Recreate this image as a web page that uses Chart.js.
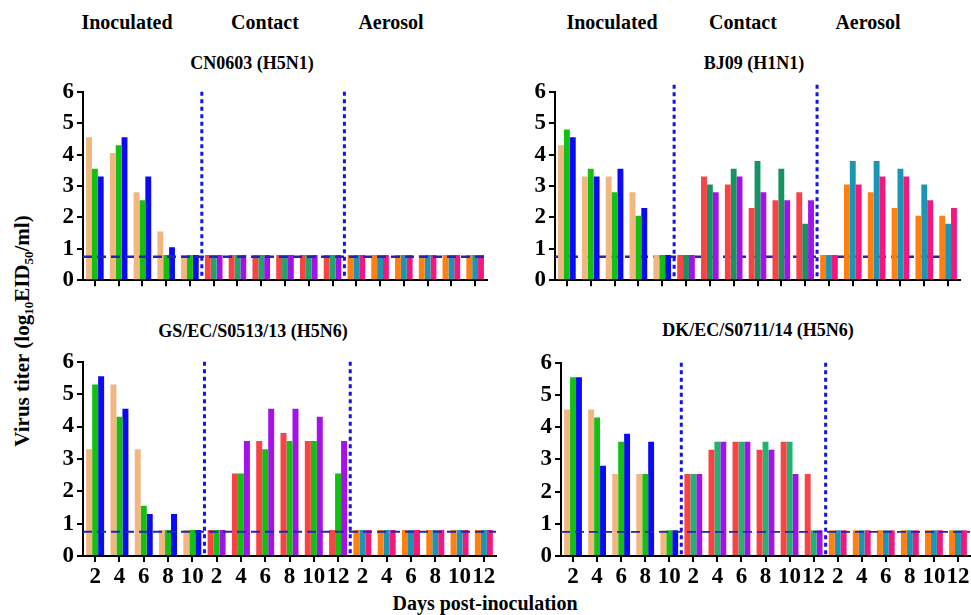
<!DOCTYPE html>
<html>
<head>
<meta charset="utf-8">
<script src="https://cdn.jsdelivr.net/npm/chart.js@4.4.1/dist/chart.umd.min.js"></script>
<style>
  body { margin: 0; background: #fff; width: 971px; height: 615px; overflow: hidden; position: relative; font-family: 'Liberation Serif', 'DejaVu Serif', 'Times New Roman', serif; }
  .txt { position: absolute; transform: translate(-50%, -50%); white-space: nowrap; font-weight: bold; color: #000; }
  .hdr { font-size: 20px; }
  .ttl { font-size: 18px; }
  .box { position: absolute; }
  sub { font-size: 13px; vertical-align: -4px; line-height: 0; }
</style>
</head>
<body>

<div class="txt hdr" style="left:127px; top:22px;">Inoculated</div>
<div class="txt hdr" style="left:265px; top:22px;">Contact</div>
<div class="txt hdr" style="left:391px; top:22px;">Aerosol</div>
<div class="txt hdr" style="left:612px; top:22px;">Inoculated</div>
<div class="txt hdr" style="left:743px; top:22px;">Contact</div>
<div class="txt hdr" style="left:868px; top:22px;">Aerosol</div>

<div class="txt ttl" style="left:252px; top:63px;">CN0603 (H5N1)</div>
<div class="txt ttl" style="left:754px; top:63px;">BJ09 (H1N1)</div>
<div class="txt ttl" style="left:253px; top:331px;">GS/EC/S0513/13 (H5N6)</div>
<div class="txt ttl" style="left:758px; top:330px;">DK/EC/S0711/14 (H5N6)</div>

<div class="txt" style="font-size:21px; left:22px; top:331px; transform: translate(-50%, -50%) rotate(-90deg);">Virus titer (log<sub>10</sub>EID<sub>50</sub>/ml)</div>
<div class="txt hdr" style="left:485px; top:603px;">Days post-inoculation</div>

<div class="box" id="boxCN"><canvas id="cnChart"></canvas></div>
<div class="box" id="boxBJ"><canvas id="bjChart"></canvas></div>
<div class="box" id="boxGS"><canvas id="gsChart"></canvas></div>
<div class="box" id="boxDK"><canvas id="dkChart"></canvas></div>

<script>
// Days sampled in each group
const inocDays = [2, 4, 6, 8, 10];
const contactDays = [2, 4, 6, 8, 10, 12];
const aerosolDays = [2, 4, 6, 8, 10, 12];
const dayLabels = [...inocDays, ...contactDays, ...aerosolDays].map(String);

const yTicks = [0, 1, 2, 3, 4, 5, 6];
const detectionLimit = 0.75;

// Titers per animal (1st / 2nd / 3rd bird), inoculated | contact | aerosol
const cnBird1 = [4.55, 4.05, 2.8, 1.55, 0.8,  0.8, 0.8, 0.8, 0.8, 0.8, 0.8,  0.8, 0.8, 0.8, 0.8, 0.8, 0.8];
const cnBird2 = [3.55, 4.3, 2.55, 0.8, 0.8,   0.8, 0.8, 0.8, 0.8, 0.8, 0.8,  0.8, 0.8, 0.8, 0.8, 0.8, 0.8];
const cnBird3 = [3.3, 4.55, 3.3, 1.05, 0.8,   0.8, 0.8, 0.8, 0.8, 0.8, 0.8,  0.8, 0.8, 0.8, 0.8, 0.8, 0.8];

const bjBird1 = [4.3, 3.3, 3.3, 2.8, 0.8,     0.8, 3.3, 3.05, 2.3, 2.55, 2.8,  0.8, 3.05, 2.8, 2.3, 2.05, 2.05];
const bjBird2 = [4.8, 3.55, 2.8, 2.05, 0.8,   0.8, 3.05, 3.55, 3.8, 3.55, 1.8, 0.8, 3.8, 3.8, 3.55, 3.05, 1.8];
const bjBird3 = [4.55, 3.3, 3.55, 2.3, 0.8,   0.8, 2.8, 3.3, 2.8, 2.55, 2.55,  0.8, 3.05, 3.3, 3.3, 2.55, 2.3];

const gsBird1 = [3.3, 5.3, 3.3, 0.8, 0.8,     0.8, 2.55, 3.55, 3.8, 3.55, 0.8,  0.8, 0.8, 0.8, 0.8, 0.8, 0.8];
const gsBird2 = [5.3, 4.3, 1.55, 0.8, 0.8,    0.8, 2.55, 3.3, 3.55, 3.55, 2.55, 0.8, 0.8, 0.8, 0.8, 0.8, 0.8];
const gsBird3 = [5.55, 4.55, 1.3, 1.3, 0.8,   0.8, 3.55, 4.55, 4.55, 4.3, 3.55, 0.8, 0.8, 0.8, 0.8, 0.8, 0.8];

const dkBird1 = [4.55, 4.55, 2.55, 2.55, 0.8, 2.55, 3.3, 3.55, 3.3, 3.55, 2.55, 0.8, 0.8, 0.8, 0.8, 0.8, 0.8];
const dkBird2 = [5.55, 4.3, 3.55, 2.55, 0.8,  2.55, 3.55, 3.55, 3.55, 3.55, 0.8, 0.8, 0.8, 0.8, 0.8, 0.8, 0.8];
const dkBird3 = [5.55, 2.8, 3.8, 3.55, 0.8,   2.55, 3.55, 3.55, 3.3, 2.55, 0.8,  0.8, 0.8, 0.8, 0.8, 0.8, 0.8];

// colours: one per bird within each group
const inocColors = ['#F2B681', '#12C012', '#0A0AF5'];
const aeroColors = ['#FF8012', '#1A96B4', '#F7177C'];

function colorsFor(bird, contactColors) {
    return [
        ...inocDays.map(() => inocColors[bird]),
        ...contactDays.map(() => contactColors[bird]),
        ...aerosolDays.map(() => aeroColors[bird])
    ];
}

const serif = "'Liberation Serif', 'DejaVu Serif', 'Times New Roman', serif";

// detection limit (dashed) + group separators (dotted)
const titerLines = {
    id: 'titerLines',
    beforeDatasetsDraw(chart, args, opts) {
        if (opts.under) drawLod(chart, opts);
    },
    afterDatasetsDraw(chart, args, opts) {
        if (!opts.under) drawLod(chart, opts);
        const { ctx, chartArea, scales: { x, y } } = chart;
        const breaks = [inocDays.length - 0.5, inocDays.length + contactDays.length - 0.5];
        ctx.save();
        ctx.strokeStyle = '#1414E0';
        ctx.lineWidth = 3;
        ctx.setLineDash([4, 3.5]);
        breaks.forEach(b => {
            const px = (x.getPixelForValue(Math.floor(b)) + x.getPixelForValue(Math.ceil(b))) / 2;
            ctx.beginPath();
            ctx.moveTo(px, y.getPixelForValue(6) - opts.sepRise);
            ctx.lineTo(px, chartArea.bottom);
            ctx.stroke();
        });
        ctx.restore();
    }
};

function drawLod(chart, opts) {
    const { ctx, chartArea, scales: { y } } = chart;
    const py = y.getPixelForValue(detectionLimit);
    ctx.save();
    ctx.strokeStyle = '#2424B4';
    ctx.lineWidth = opts.lodWidth;
    ctx.setLineDash([9, 5]);
    ctx.beginPath();
    ctx.moveTo(chartArea.left, py);
    ctx.lineTo(chartArea.right, py);
    ctx.stroke();
    ctx.restore();
}

const YW = 45, PT = 14, PR = 2;

function makePanel(boxId, canvasId, area, birds, contactColors, showLabels, lineOpts) {
    const XH = showLabels ? 45 : 12;
    const box = document.getElementById(boxId);
    box.style.left = (area.left - YW) + 'px';
    box.style.top = (area.top - PT) + 'px';
    box.style.width = (area.right - area.left + YW + PR) + 'px';
    box.style.height = (area.bottom - area.top + PT + XH) + 'px';

    const ctx = document.getElementById(canvasId).getContext('2d');
    new Chart(ctx, {
        type: 'bar',
        data: {
            labels: dayLabels,
            datasets: birds.map((d, i) => ({
                data: d,
                backgroundColor: colorsFor(i, contactColors),
                borderWidth: 0,
                categoryPercentage: 0.74,
                barPercentage: 1
            }))
        },
        options: {
            responsive: true,
            maintainAspectRatio: false,
            animation: false,
            layout: { padding: { top: PT, right: PR, left: 0, bottom: 0 } },
            plugins: {
                legend: { display: false },
                tooltip: { enabled: false },
                titerLines: lineOpts
            },
            scales: {
                x: {
                    offset: true,
                    grid: { drawOnChartArea: false, offset: false, tickLength: 6, color: '#000', lineWidth: 2 },
                    border: { color: '#000', width: 2 },
                    ticks: {
                        display: showLabels, color: '#000', padding: 1,
                        maxRotation: 0, autoSkip: false,
                        font: { family: serif, size: 23, weight: 'bold' }
                    },
                    afterFit: s => { s.height = XH; }
                },
                y: {
                    min: 0, max: 6,
                    afterBuildTicks: s => { s.ticks = yTicks.map(v => ({ value: v })); },
                    grid: { drawOnChartArea: false, tickLength: 6, color: '#000', lineWidth: 2 },
                    border: { color: '#000', width: 2 },
                    ticks: {
                        color: '#000', padding: 3,
                        font: { family: serif, size: 23, weight: 'bold' }
                    },
                    afterFit: s => { s.width = YW; }
                }
            }
        },
        plugins: [titerLines]
    });
}

makePanel('boxCN', 'cnChart', { left: 83, right: 487, top: 89, bottom: 285 },
    [cnBird1, cnBird2, cnBird3], ['#F84444', '#1CA66C', '#A412EA'], false,
    { under: false, lodWidth: 2.5, sepRise: 0 });

makePanel('boxBJ', 'bjChart', { left: 555, right: 960, top: 89, bottom: 285 },
    [bjBird1, bjBird2, bjBird3], ['#F84444', '#179262', '#A412EA'], false,
    { under: true, lodWidth: 2.5, sepRise: 7 });

makePanel('boxGS', 'gsChart', { left: 83, right: 496, top: 359, bottom: 556 },
    [gsBird1, gsBird2, gsBird3], ['#F84444', '#12C012', '#A412EA'], true,
    { under: false, lodWidth: 1.8, sepRise: 0 });

makePanel('boxDK', 'dkChart', { left: 561, right: 970, top: 360, bottom: 556 },
    [dkBird1, dkBird2, dkBird3], ['#F84444', '#20B474', '#A412EA'], true,
    { under: false, lodWidth: 1.8, sepRise: 0 });
</script>
</body>
</html>
